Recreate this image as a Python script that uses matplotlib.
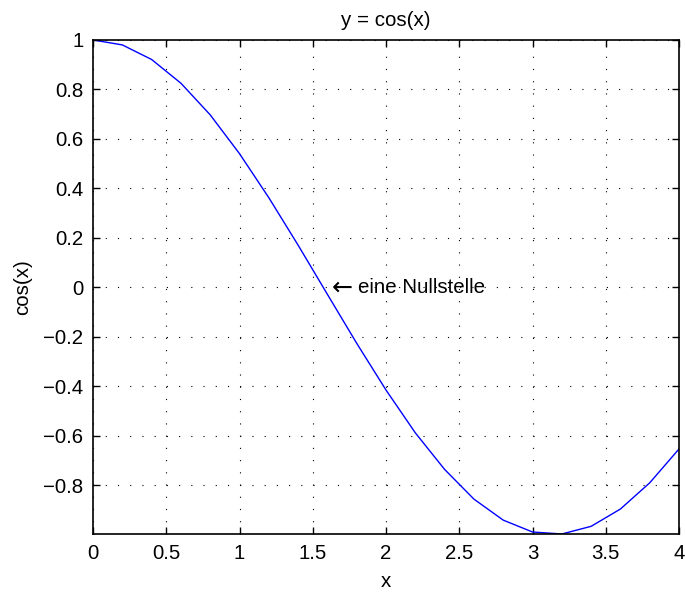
import matplotlib
matplotlib.use('Agg')
import matplotlib.pyplot as plt
import numpy as np

plt.rcParams['font.family'] = ['Liberation Sans', 'DejaVu Sans']

# values
x = [0.0, 0.2, 0.4, 0.6, 0.8, 1.0, 1.2, 1.4, 1.6, 1.8, 2.0,
     2.2, 2.4, 2.6, 2.8, 3.0, 3.2, 3.4, 3.6, 3.8, 4.0]
y = [1.0, 0.980, 0.921, 0.825, 0.697, 0.540, 0.362, 0.170, -0.029, -0.227, -0.416,
     -0.589, -0.737, -0.857, -0.942, -0.990, -0.998, -0.967, -0.897, -0.791, -0.654]
xticks = [0, 0.5, 1, 1.5, 2, 2.5, 3, 3.5, 4]
yticks = [-0.8, -0.6, -0.4, -0.2, 0, 0.2, 0.4, 0.6, 0.8, 1]
ytick_labels = ['\u22120.8', '\u22120.6', '\u22120.4', '\u22120.2', '0', '0.2', '0.4', '0.6', '0.8', '1']
note_x, note_y = 1.6, 0.0

fig = plt.figure(figsize=(6.85, 5.92), dpi=100)
ax = fig.add_axes([0.1358, 0.098, 0.8555, 0.8345])

ax.plot(x, y, color='blue', lw=1.0)
ax.set_xlim(min(x), max(x))
ax.set_ylim(min(y), max(y))
ax.set_xticks(xticks)
ax.set_xticklabels([('%g' % t) for t in xticks])
ax.set_yticks(yticks)
ax.set_yticklabels(ytick_labels)
ax.tick_params(direction='in', length=5, width=1, labelsize=14.7, top=True, right=True, pad=7)
ax.grid(True, color='black', linestyle=(0, (1, 10)), linewidth=0.8)
for s in ax.spines.values():
    s.set_linewidth(1.2)

ax.set_title('y = cos(x)', fontsize=14.8, pad=10)
ax.set_xlabel('x', fontsize=14.8, labelpad=7)
ax.set_ylabel('cos(x)', fontsize=14.8, labelpad=8)

# arrow + note, nudged a few points right of the data position
ax.annotate('\u2190', (note_x, note_y), xytext=(3, 0), textcoords='offset points',
            fontsize=18, va='center', ha='left', family=['DejaVu Sans'])
ax.annotate('eine Nullstelle', (note_x, note_y), xytext=(22, 0), textcoords='offset points',
            fontsize=14.8, va='center', ha='left')

fig.savefig('out.png', dpi=100)
